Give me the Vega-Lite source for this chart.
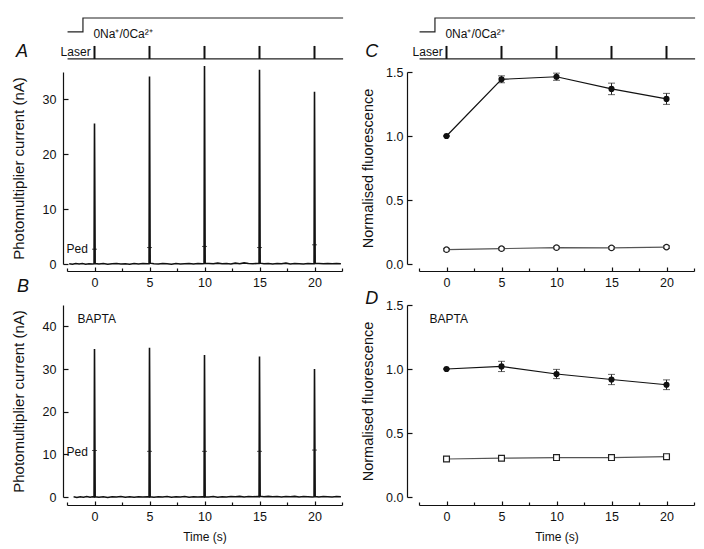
{
  "$schema": "https://vega.github.io/schema/vega-lite/v6.json",
  "padding": {"left": 11, "top": 15, "right": 5, "bottom": 5},
  "background": "white",
  "config": {
    "font": "Liberation Sans",
    "view": {"stroke": null},
    "axis": {"domainColor": "#111", "tickColor": "#111", "labelColor": "#111", "titleColor": "#111", "grid": false, "labelFontSize": 12.5, "titleFontSize": 12, "titleFontWeight": "normal", "labelFont": "Liberation Sans", "titleFont": "Liberation Sans", "domainWidth": 1.2, "tickWidth": 1.2, "labelOverlap": false},
    "axisX": {"labelFlush": false}
  },
  "datasets": {
    "step": [{"i": 0, "t": -2.45, "v": 2.65}, {"i": 1, "t": -1.05, "v": 2.65}, {"i": 2, "t": -1.05, "v": 4}, {"i": 3, "t": 22.6, "v": 4}],
    "laser": [{"t": 0}, {"t": 5}, {"t": 10}, {"t": 15}, {"t": 20}],
    "traceA": [
      {"t": -2.3, "v": 0.05}, {"t": -2.0, "v": -0.05}, {"t": -1.7, "v": 0.1}, {"t": -1.4, "v": 0}, {"t": -1.1, "v": 0.08}, {"t": -0.8, "v": -0.05}, {"t": -0.5, "v": 0.05}, {"t": -0.2, "v": 0}, {"t": -0.04, "v": 0.05}, {"t": 0, "v": 25.6}, {"t": 0.06, "v": 0.1},
      {"t": 0.4, "v": 0}, {"t": 0.8, "v": 0.1}, {"t": 1.2, "v": -0.05}, {"t": 1.6, "v": 0.05}, {"t": 2.0, "v": 0.1}, {"t": 2.4, "v": 0}, {"t": 2.8, "v": 0.05}, {"t": 3.2, "v": -0.05}, {"t": 3.6, "v": 0.08}, {"t": 4.0, "v": 0}, {"t": 4.4, "v": 0.1}, {"t": 4.8, "v": 0.05}, {"t": 4.96, "v": 0.05}, {"t": 5, "v": 34.2}, {"t": 5.06, "v": 0.15},
      {"t": 5.4, "v": 0.05}, {"t": 5.8, "v": 0}, {"t": 6.2, "v": 0.1}, {"t": 6.6, "v": 0.05}, {"t": 7.0, "v": -0.05}, {"t": 7.4, "v": 0.1}, {"t": 7.8, "v": 0}, {"t": 8.2, "v": 0.05}, {"t": 8.6, "v": 0.1}, {"t": 9.0, "v": 0}, {"t": 9.4, "v": 0.08}, {"t": 9.8, "v": 0.05}, {"t": 9.96, "v": 0.1}, {"t": 10, "v": 36.1}, {"t": 10.06, "v": 0.15},
      {"t": 10.4, "v": 0.1}, {"t": 10.8, "v": 0.05}, {"t": 11.2, "v": 0.15}, {"t": 11.6, "v": 0.05}, {"t": 12.0, "v": 0.1}, {"t": 12.4, "v": 0}, {"t": 12.8, "v": 0.15}, {"t": 13.2, "v": 0.05}, {"t": 13.6, "v": 0.2}, {"t": 14.0, "v": 0.1}, {"t": 14.4, "v": 0.05}, {"t": 14.8, "v": 0.1}, {"t": 14.96, "v": 0.1}, {"t": 15, "v": 35.4}, {"t": 15.06, "v": 0.15},
      {"t": 15.4, "v": 0.05}, {"t": 15.8, "v": 0.1}, {"t": 16.2, "v": 0}, {"t": 16.6, "v": 0.1}, {"t": 17.0, "v": 0.05}, {"t": 17.4, "v": 0.15}, {"t": 17.8, "v": 0}, {"t": 18.2, "v": 0.1}, {"t": 18.6, "v": 0.05}, {"t": 19.0, "v": 0}, {"t": 19.4, "v": 0.1}, {"t": 19.8, "v": 0.05}, {"t": 19.96, "v": 0.05}, {"t": 20, "v": 31.4}, {"t": 20.06, "v": 0.15},
      {"t": 20.4, "v": 0.1}, {"t": 20.8, "v": 0.05}, {"t": 21.2, "v": 0.1}, {"t": 21.6, "v": 0.05}, {"t": 22.0, "v": 0.1}, {"t": 22.4, "v": 0.05}
    ],
    "traceB": [
      {"t": -1.9, "v": 0.05}, {"t": -1.6, "v": -0.1}, {"t": -1.3, "v": 0.05}, {"t": -1.0, "v": -0.05}, {"t": -0.7, "v": 0.1}, {"t": -0.4, "v": -0.05}, {"t": -0.2, "v": 0.05}, {"t": -0.04, "v": 0}, {"t": 0, "v": 34.7}, {"t": 0.06, "v": 0.05},
      {"t": 0.4, "v": -0.05}, {"t": 0.8, "v": 0.05}, {"t": 1.2, "v": -0.1}, {"t": 1.6, "v": 0.05}, {"t": 2.0, "v": 0}, {"t": 2.4, "v": 0.1}, {"t": 2.8, "v": -0.05}, {"t": 3.2, "v": 0.05}, {"t": 3.6, "v": -0.05}, {"t": 4.0, "v": 0.05}, {"t": 4.4, "v": 0}, {"t": 4.8, "v": 0.05}, {"t": 4.96, "v": 0}, {"t": 5, "v": 35.0}, {"t": 5.06, "v": 0.05},
      {"t": 5.4, "v": -0.05}, {"t": 5.8, "v": 0.05}, {"t": 6.2, "v": 0}, {"t": 6.6, "v": 0.1}, {"t": 7.0, "v": -0.05}, {"t": 7.4, "v": 0.05}, {"t": 7.8, "v": 0}, {"t": 8.2, "v": 0.1}, {"t": 8.6, "v": -0.05}, {"t": 9.0, "v": 0.05}, {"t": 9.4, "v": 0}, {"t": 9.8, "v": 0.05}, {"t": 9.96, "v": 0}, {"t": 10, "v": 33.3}, {"t": 10.06, "v": 0.05},
      {"t": 10.4, "v": 0}, {"t": 10.8, "v": 0.1}, {"t": 11.2, "v": -0.05}, {"t": 11.6, "v": 0.05}, {"t": 12.0, "v": 0}, {"t": 12.4, "v": 0.1}, {"t": 12.8, "v": 0.05}, {"t": 13.2, "v": 0.15}, {"t": 13.6, "v": 0}, {"t": 14.0, "v": 0.1}, {"t": 14.4, "v": 0.05}, {"t": 14.8, "v": 0.1}, {"t": 14.96, "v": 0.05}, {"t": 15, "v": 32.9}, {"t": 15.06, "v": 0.15},
      {"t": 15.4, "v": 0.05}, {"t": 15.8, "v": 0.15}, {"t": 16.2, "v": 0.05}, {"t": 16.6, "v": 0.1}, {"t": 17.0, "v": 0}, {"t": 17.4, "v": 0.1}, {"t": 17.8, "v": 0.05}, {"t": 18.2, "v": 0.15}, {"t": 18.6, "v": 0}, {"t": 19.0, "v": 0.1}, {"t": 19.4, "v": 0.05}, {"t": 19.8, "v": 0}, {"t": 19.96, "v": 0.05}, {"t": 20, "v": 30.0}, {"t": 20.06, "v": 0.1},
      {"t": 20.4, "v": 0}, {"t": 20.8, "v": 0.1}, {"t": 21.2, "v": 0.05}, {"t": 21.6, "v": 0}, {"t": 22.0, "v": 0.1}, {"t": 22.4, "v": 0.05}
    ],
    "pedA": [{"t": 0, "v": 2.7}, {"t": 5, "v": 3.0}, {"t": 10, "v": 3.2}, {"t": 15, "v": 3.0}, {"t": 20, "v": 3.5}],
    "pedB": [{"t": 0, "v": 10.9}, {"t": 5, "v": 10.7}, {"t": 10, "v": 10.7}, {"t": 15, "v": 10.7}, {"t": 20, "v": 11.0}],
    "C": [
      {"t": 0, "m": 1.0, "lo": 1.0, "hi": 1.0, "s": "f"}, {"t": 5, "m": 1.443, "lo": 1.416, "hi": 1.47, "s": "f"}, {"t": 10, "m": 1.463, "lo": 1.435, "hi": 1.491, "s": "f"}, {"t": 15, "m": 1.368, "lo": 1.323, "hi": 1.413, "s": "f"}, {"t": 20, "m": 1.29, "lo": 1.247, "hi": 1.333, "s": "f"},
      {"t": 0, "m": 0.112, "lo": 0.102, "hi": 0.122, "s": "o"}, {"t": 5, "m": 0.12, "lo": 0.11, "hi": 0.13, "s": "o"}, {"t": 10, "m": 0.128, "lo": 0.118, "hi": 0.138, "s": "o"}, {"t": 15, "m": 0.126, "lo": 0.116, "hi": 0.136, "s": "o"}, {"t": 20, "m": 0.132, "lo": 0.122, "hi": 0.142, "s": "o"}
    ],
    "D": [
      {"t": 0, "m": 1.0, "lo": 1.0, "hi": 1.0, "s": "f"}, {"t": 5, "m": 1.02, "lo": 0.98, "hi": 1.06, "s": "f"}, {"t": 10, "m": 0.961, "lo": 0.925, "hi": 0.997, "s": "f"}, {"t": 15, "m": 0.918, "lo": 0.878, "hi": 0.958, "s": "f"}, {"t": 20, "m": 0.877, "lo": 0.839, "hi": 0.915, "s": "f"},
      {"t": 0, "m": 0.297, "lo": 0.282, "hi": 0.312, "s": "o"}, {"t": 5, "m": 0.303, "lo": 0.29, "hi": 0.316, "s": "o"}, {"t": 10, "m": 0.308, "lo": 0.295, "hi": 0.321, "s": "o"}, {"t": 15, "m": 0.308, "lo": 0.295, "hi": 0.321, "s": "o"}, {"t": 20, "m": 0.315, "lo": 0.303, "hi": 0.327, "s": "o"}
    ]
  },
  "columns": 2,
  "spacing": {"row": 41, "column": 77},
  "bounds": "flush",
  "concat": [
    {
      "width": 275, "height": 13,
      "encoding": {
        "x": {"type": "quantitative", "scale": {"domain": [-2.5, 22.5], "nice": false, "zero": false}, "axis": null}
      },
      "layer": [
        {"data": {"name": "step"}, "mark": {"type": "line", "color": "#222", "strokeWidth": 1.2, "clip": false},
         "encoding": {"x": {"field": "t", "type": "quantitative"}, "y": {"field": "v", "type": "quantitative", "scale": {"domain": [2.73, 4], "nice": false, "zero": false}, "axis": null}, "order": {"field": "i"}}},
        {"data": {"values": [{"a": -2.45, "b": 22.6, "v": 0}]}, "mark": {"type": "rule", "color": "#222", "strokeWidth": 1.2},
         "encoding": {"x": {"field": "a", "type": "quantitative"}, "x2": {"field": "b"}, "y": {"field": "v", "type": "quantitative"}}},
        {"data": {"name": "laser"}, "mark": {"type": "rule", "color": "#111", "strokeWidth": 2},
         "encoding": {"x": {"field": "t", "type": "quantitative"}, "y": {"datum": 0, "type": "quantitative"}, "y2": {"datum": 1.27}}},
        {"data": {"values": [{"x": -0.1, "y": 2.45, "label": "0Na⁺/0Ca²⁺"}]}, "mark": {"type": "text", "align": "left", "baseline": "middle", "fontSize": 12, "color": "#111"},
         "encoding": {"x": {"field": "x", "type": "quantitative"}, "y": {"field": "y", "type": "quantitative"}, "text": {"field": "label"}}},
        {"data": {"values": [{"x": -0.35, "y": 0.68, "label": "Laser"}]}, "mark": {"type": "text", "align": "right", "baseline": "middle", "fontSize": 12, "color": "#111"},
         "encoding": {"x": {"field": "x", "type": "quantitative"}, "y": {"field": "y", "type": "quantitative"}, "text": {"field": "label"}}},
        {"data": {"values": [{"x": -6.6, "y": 0.68, "label": "A"}]}, "mark": {"type": "text", "align": "center", "baseline": "middle", "fontSize": 18, "fontStyle": "italic", "color": "#111"},
         "encoding": {"x": {"field": "x", "type": "quantitative"}, "y": {"field": "y", "type": "quantitative"}, "text": {"field": "label"}}}
      ]
    },
    {
      "width": 275, "height": 13,
      "encoding": {
        "x": {"type": "quantitative", "scale": {"domain": [-2.5, 22.5], "nice": false, "zero": false}, "axis": null}
      },
      "layer": [
        {"data": {"name": "step"}, "mark": {"type": "line", "color": "#222", "strokeWidth": 1.2, "clip": false},
         "encoding": {"x": {"field": "t", "type": "quantitative"}, "y": {"field": "v", "type": "quantitative", "scale": {"domain": [2.73, 4], "nice": false, "zero": false}, "axis": null}, "order": {"field": "i"}}},
        {"data": {"values": [{"a": -2.45, "b": 22.6, "v": 0}]}, "mark": {"type": "rule", "color": "#222", "strokeWidth": 1.2},
         "encoding": {"x": {"field": "a", "type": "quantitative"}, "x2": {"field": "b"}, "y": {"field": "v", "type": "quantitative"}}},
        {"data": {"name": "laser"}, "mark": {"type": "rule", "color": "#111", "strokeWidth": 2},
         "encoding": {"x": {"field": "t", "type": "quantitative"}, "y": {"datum": 0, "type": "quantitative"}, "y2": {"datum": 1.27}}},
        {"data": {"values": [{"x": -0.1, "y": 2.45, "label": "0Na⁺/0Ca²⁺"}]}, "mark": {"type": "text", "align": "left", "baseline": "middle", "fontSize": 12, "color": "#111"},
         "encoding": {"x": {"field": "x", "type": "quantitative"}, "y": {"field": "y", "type": "quantitative"}, "text": {"field": "label"}}},
        {"data": {"values": [{"x": -0.35, "y": 0.68, "label": "Laser"}]}, "mark": {"type": "text", "align": "right", "baseline": "middle", "fontSize": 12, "color": "#111"},
         "encoding": {"x": {"field": "x", "type": "quantitative"}, "y": {"field": "y", "type": "quantitative"}, "text": {"field": "label"}}},
        {"data": {"values": [{"x": -6.8, "y": 0.68, "label": "C"}]}, "mark": {"type": "text", "align": "center", "baseline": "middle", "fontSize": 18, "fontStyle": "italic", "color": "#111"},
         "encoding": {"x": {"field": "x", "type": "quantitative"}, "y": {"field": "y", "type": "quantitative"}, "text": {"field": "label"}}}
      ]
    },
    {
      "width": 275, "height": 192,
      "resolve": {"axis": {"x": "independent"}},
      "layer": [
        {"data": {"name": "traceA"}, "mark": {"type": "line", "color": "#111", "strokeWidth": 1.6},
         "encoding": {
           "x": {"field": "t", "type": "quantitative", "scale": {"domain": [-2.5, 22.5], "nice": false, "zero": false},
                 "axis": {"title": null, "values": [0, 5, 10, 15, 20], "tickSize": -4, "offset": 7, "labelPadding": 9}},
           "y": {"field": "v", "type": "quantitative", "scale": {"domain": [0, 35], "nice": false, "zero": false},
                 "axis": {"title": "Photomultiplier current (nA)", "titleFontSize": 15, "titlePadding": 16, "values": [0, 5, 10, 15, 20, 25, 30, 35], "labelExpr": "datum.value % 10 === 0 ? datum.label : ''", "tickSize": {"condition": {"test": "datum.value % 10 === 0", "value": -5}, "value": -3}, "offset": 4, "labelPadding": 12}}
         }},
        {"data": {"name": "pedA"}, "mark": {"type": "tick", "orient": "horizontal", "size": 5, "thickness": 1, "color": "#111"},
         "encoding": {"x": {"field": "t", "type": "quantitative", "axis": {"orient": "bottom", "values": [-2.5, 2.5, 7.5, 12.5, 17.5, 22.5], "labels": false, "domain": false, "tickSize": -3, "offset": 7, "title": null}}, "y": {"field": "v", "type": "quantitative"}}},
        {"data": {"values": [{"x": -0.6, "y": 2.7, "label": "Ped"}]}, "mark": {"type": "text", "align": "right", "baseline": "middle", "fontSize": 12, "color": "#111"},
         "encoding": {"x": {"field": "x", "type": "quantitative", "axis": null}, "y": {"field": "y", "type": "quantitative"}, "text": {"field": "label"}}}
      ]
    },
    {
      "width": 275, "height": 192,
      "resolve": {"axis": {"x": "independent"}},
      "layer": [
        {"data": {"name": "C"}, "mark": {"type": "errorbar", "ticks": {"size": 7}, "color": "#222"},
         "encoding": {
           "x": {"field": "t", "type": "quantitative", "scale": {"domain": [-2.5, 22.5], "nice": false, "zero": false},
                 "axis": {"title": null, "values": [0, 5, 10, 15, 20], "tickSize": -4, "offset": 7, "labelPadding": 9}},
           "y": {"field": "lo", "type": "quantitative", "scale": {"domain": [0, 1.5], "nice": false, "zero": false},
                 "axis": {"title": "Normalised fluorescence", "titleFontSize": 14.5, "titlePadding": 10, "values": [0, 0.25, 0.5, 0.75, 1, 1.25, 1.5], "format": ".1f", "labelExpr": "datum.value % 0.5 === 0 ? datum.label : ''", "tickSize": {"condition": {"test": "datum.value % 0.5 === 0", "value": -5}, "value": -3}, "offset": 12, "labelPadding": 9}},
           "y2": {"field": "hi"}
         }},
        {"data": {"name": "C"}, "mark": {"type": "line", "strokeWidth": 1.2},
         "encoding": {"x": {"field": "t", "type": "quantitative", "axis": {"orient": "bottom", "values": [-2.5, 2.5, 7.5, 12.5, 17.5, 22.5], "labels": false, "domain": false, "tickSize": -3, "offset": 7, "title": null}}, "y": {"field": "m", "type": "quantitative", "title": "Normalised fluorescence"},
                      "color": {"field": "s", "type": "nominal", "scale": {"domain": ["f", "o"], "range": ["#111", "#555"]}, "legend": null}}},
        {"data": {"name": "C"}, "transform": [{"filter": "datum.s === 'f'"}], "mark": {"type": "point", "filled": true, "shape": "circle", "size": 38, "color": "#111", "opacity": 1},
         "encoding": {"x": {"field": "t", "type": "quantitative", "axis": null}, "y": {"field": "m", "type": "quantitative", "title": "Normalised fluorescence"}}},
        {"data": {"name": "C"}, "transform": [{"filter": "datum.s === 'o'"}], "mark": {"type": "point", "filled": false, "shape": "circle", "size": 30, "fill": "white", "fillOpacity": 1, "stroke": "#222", "strokeWidth": 1.2, "opacity": 1},
         "encoding": {"x": {"field": "t", "type": "quantitative", "axis": null}, "y": {"field": "m", "type": "quantitative", "title": "Normalised fluorescence"}}}
      ]
    },
    {
      "width": 275, "height": 192,
      "resolve": {"axis": {"x": "independent"}},
      "layer": [
        {"data": {"name": "traceB"}, "mark": {"type": "line", "color": "#111", "strokeWidth": 1.6},
         "encoding": {
           "x": {"field": "t", "type": "quantitative", "scale": {"domain": [-2.5, 22.5], "nice": false, "zero": false},
                 "axis": {"title": "Time (s)", "titlePadding": 9, "values": [0, 5, 10, 15, 20], "tickSize": -4, "offset": 8, "labelPadding": 9}},
           "y": {"field": "v", "type": "quantitative", "scale": {"domain": [0, 45], "nice": false, "zero": false},
                 "axis": {"title": "Photomultiplier current (nA)", "titleFontSize": 15, "titlePadding": 16, "values": [0, 5, 10, 15, 20, 25, 30, 35, 40, 45], "labelExpr": "datum.value % 10 === 0 ? datum.label : ''", "tickSize": {"condition": {"test": "datum.value % 10 === 0", "value": -5}, "value": -3}, "offset": 4, "labelPadding": 12}}
         }},
        {"data": {"name": "pedB"}, "mark": {"type": "tick", "orient": "horizontal", "size": 5, "thickness": 1, "color": "#111"},
         "encoding": {"x": {"field": "t", "type": "quantitative", "axis": {"orient": "bottom", "values": [-2.5, 2.5, 7.5, 12.5, 17.5, 22.5], "labels": false, "domain": false, "tickSize": -3, "offset": 8, "title": null}}, "y": {"field": "v", "type": "quantitative"}}},
        {"data": {"values": [{"x": -0.6, "y": 10.6, "label": "Ped"}]}, "mark": {"type": "text", "align": "right", "baseline": "middle", "fontSize": 12, "color": "#111"},
         "encoding": {"x": {"field": "x", "type": "quantitative", "axis": null}, "y": {"field": "y", "type": "quantitative"}, "text": {"field": "label"}}},
        {"data": {"values": [{"x": -1.55, "y": 41.7, "label": "BAPTA"}]}, "mark": {"type": "text", "align": "left", "baseline": "middle", "fontSize": 12, "color": "#111"},
         "encoding": {"x": {"field": "x", "type": "quantitative", "axis": null}, "y": {"field": "y", "type": "quantitative"}, "text": {"field": "label"}}},
        {"data": {"values": [{"x": -6.5, "y": 49.2, "label": "B"}]}, "mark": {"type": "text", "align": "center", "baseline": "middle", "fontSize": 18, "fontStyle": "italic", "color": "#111"},
         "encoding": {"x": {"field": "x", "type": "quantitative", "axis": null}, "y": {"field": "y", "type": "quantitative"}, "text": {"field": "label"}}}
      ]
    },
    {
      "width": 275, "height": 192,
      "resolve": {"axis": {"x": "independent"}},
      "layer": [
        {"data": {"name": "D"}, "mark": {"type": "errorbar", "ticks": {"size": 7}, "color": "#222"},
         "encoding": {
           "x": {"field": "t", "type": "quantitative", "scale": {"domain": [-2.5, 22.5], "nice": false, "zero": false},
                 "axis": {"title": "Time (s)", "titlePadding": 9, "values": [0, 5, 10, 15, 20], "tickSize": -4, "offset": 8, "labelPadding": 9}},
           "y": {"field": "lo", "type": "quantitative", "scale": {"domain": [0, 1.5], "nice": false, "zero": false},
                 "axis": {"title": "Normalised fluorescence", "titleFontSize": 14.5, "titlePadding": 10, "values": [0, 0.25, 0.5, 0.75, 1, 1.25, 1.5], "format": ".1f", "labelExpr": "datum.value % 0.5 === 0 ? datum.label : ''", "tickSize": {"condition": {"test": "datum.value % 0.5 === 0", "value": -5}, "value": -3}, "offset": 12, "labelPadding": 9}},
           "y2": {"field": "hi"}
         }},
        {"data": {"name": "D"}, "mark": {"type": "line", "strokeWidth": 1.2},
         "encoding": {"x": {"field": "t", "type": "quantitative", "axis": {"orient": "bottom", "values": [-2.5, 2.5, 7.5, 12.5, 17.5, 22.5], "labels": false, "domain": false, "tickSize": -3, "offset": 8, "title": null}}, "y": {"field": "m", "type": "quantitative", "title": "Normalised fluorescence"},
                      "color": {"field": "s", "type": "nominal", "scale": {"domain": ["f", "o"], "range": ["#111", "#555"]}, "legend": null}}},
        {"data": {"name": "D"}, "transform": [{"filter": "datum.s === 'f'"}], "mark": {"type": "point", "filled": true, "shape": "circle", "size": 38, "color": "#111", "opacity": 1},
         "encoding": {"x": {"field": "t", "type": "quantitative", "axis": null}, "y": {"field": "m", "type": "quantitative", "title": "Normalised fluorescence"}}},
        {"data": {"name": "D"}, "transform": [{"filter": "datum.s === 'o'"}], "mark": {"type": "point", "filled": false, "shape": "square", "size": 34, "fill": "white", "fillOpacity": 1, "stroke": "#222", "strokeWidth": 1.2, "opacity": 1},
         "encoding": {"x": {"field": "t", "type": "quantitative", "axis": null}, "y": {"field": "m", "type": "quantitative", "title": "Normalised fluorescence"}}},
        {"data": {"values": [{"x": -1.54, "y": 1.39, "label": "BAPTA"}]}, "mark": {"type": "text", "align": "left", "baseline": "middle", "fontSize": 12, "color": "#111"},
         "encoding": {"x": {"field": "x", "type": "quantitative", "axis": null}, "y": {"field": "y", "type": "quantitative"}, "text": {"field": "label"}}},
        {"data": {"values": [{"x": -6.8, "y": 1.547, "label": "D"}]}, "mark": {"type": "text", "align": "center", "baseline": "middle", "fontSize": 18, "fontStyle": "italic", "color": "#111"},
         "encoding": {"x": {"field": "x", "type": "quantitative", "axis": null}, "y": {"field": "y", "type": "quantitative"}, "text": {"field": "label"}}}
      ]
    }
  ]
}
